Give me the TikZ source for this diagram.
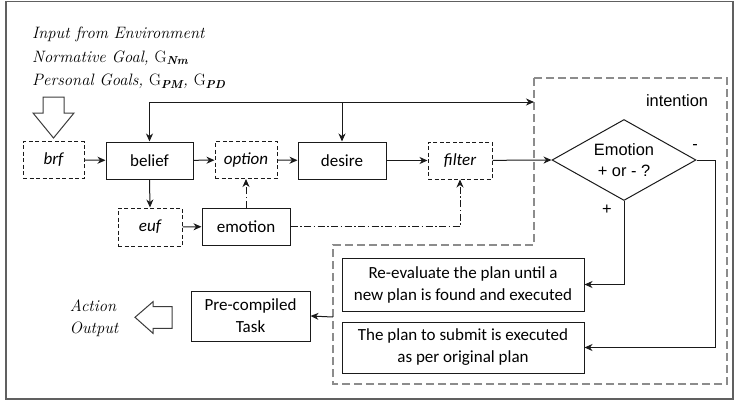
\documentclass[tikz,border=0pt]{standalone}
\usepackage{fontspec}
\newfontfamily\boxfont{Carlito}
\newfontfamily\labelfont{Liberation Sans}
\usetikzlibrary{arrows.meta,shapes.geometric}
\definecolor{ink}{HTML}{1A1A1A}
\definecolor{framegray}{HTML}{606060}
\definecolor{zonegray}{HTML}{8C8C8C}
\begin{document}
\begin{tikzpicture}[x=1pt,y=-1pt,
  every node/.style={inner sep=0pt},
  solidbox/.style={draw=ink, line width=1pt, minimum height=37pt, align=center,
    font=\boxfont\fontsize{17}{22}\selectfont},
  dashbox/.style={solidbox, dash pattern=on 4pt off 2.5pt,
    font=\boxfont\itshape\fontsize{17}{22}\selectfont},
  conn/.style={draw=ink, line width=1pt, -{Stealth[length=8pt,width=7pt,inset=2.5pt]}},
  dashdot/.style={conn, dash pattern=on 7pt off 2.5pt on 1.5pt off 2.5pt},
  plain/.style={draw=ink, line width=1pt},
  hollow/.style={draw=ink!85, line width=1pt, fill=white, line join=miter},
  serifit/.style={font=\itshape\fontsize{16.5}{19}\selectfont},
  sanslabel/.style={font=\labelfont\fontsize{16.4}{21}\selectfont, align=center},
]
\useasboundingbox (0,0) rectangle (735,402);

% outer frame
\draw[framegray, line width=1.5pt] (6,1.5) rectangle (733,399);

% intention zone
\draw[zonegray, line width=1.4pt, dash pattern=on 8pt off 4pt]
  (534,78) -- (727,78) -- (727,384) -- (333,384) -- (333,245) -- (534,245) -- cycle;
\node[sanslabel] (intention) at (677,101) {intention};

% inputs
\node[serifit, anchor=base west] (in1) at (32,38.5) {Input from Environment};
\node[serifit, anchor=base west] (in2) at (32,62) {Normative Goal, {\upshape G}\textsubscript{\textbf{Nm}}};
\node[serifit, anchor=base west] (in3) at (32,85.5) {Personal Goals, {\upshape G}\textsubscript{\textbf{PM}}, {\upshape G}\textsubscript{\textbf{PD}}};

% input arrow
\draw[hollow] (43,97) -- (64,97) -- (64,113) -- (74,113) -- (53.5,138) -- (33,113) -- (43,113) -- cycle;

% main row
\node[dashbox, minimum width=61pt] (brf) at (53.5,160) {brf};
\node[solidbox, minimum width=87pt] (belief) at (149.5,160.5) {belief};
\node[dashbox, minimum width=62pt] (option) at (246,160) {option};
\node[solidbox, minimum width=88pt] (desire) at (342,160.5) {desire};
\node[dashbox, minimum width=64pt] (filter) at (460,160.5) {filter};

% second row
\node[dashbox, minimum width=64pt, minimum height=38pt] (euf) at (150,227) {euf};
\node[solidbox, minimum width=88pt] (emotion) at (246,226.5) {emotion};

% decision
\node[draw=ink, line width=1pt, shape=diamond, aspect=1.78, minimum width=144pt,
  minimum height=81pt, sanslabel] (dia) at (624,160) {Emotion\\+ or - ?};
\node[sanslabel] (plus) at (607,210) {+};
\node[sanslabel] (minus) at (695,147) {-};

% outcomes
\node[solidbox, minimum width=242pt, minimum height=53pt] (reeval) at (463,284.5)
  {Re-evaluate the plan until a\\new plan is found and executed};
\node[solidbox, minimum width=242pt, minimum height=51pt] (plan) at (463,347.5)
  {The plan to submit is executed\\as per original plan};
\node[solidbox, minimum width=119pt, minimum height=50pt] (task) at (250.5,316)
  {Pre-compiled\\Task};

% output
\draw[hollow] (172,306.7) -- (153,306.7) -- (153,301.7) -- (135,317.3) -- (153,333.3)
  -- (153,328.3) -- (172,328.3) -- cycle;
\node[serifit, anchor=base] (act) at (93,311) {Action};
\node[serifit, anchor=base] (outp) at (94,333) {Output};

% connectors
\coordinate (tl) at (149.5,102);
\coordinate (intentin) at (534,102);
\coordinate (intentout) at (333,317);
\coordinate (rturn) at (715,160);

\draw[conn] (tl) -- (belief.north);
\draw[conn] (tl) -- (intentin);
\draw[conn] (desire.north |- tl) -- (desire.north);
\draw[conn] (brf) -- (belief);
\draw[conn] (belief) -- (option);
\draw[conn] (option) -- (desire);
\draw[conn] (desire) -- (filter);
\draw[conn] (filter) -- (dia.west);
\draw[conn] (belief.south) -- (euf.north);
\draw[conn] (euf) -- (emotion);
\draw[dashdot] (emotion.north) -- (option.south);
\draw[dashdot] (emotion.east) -| (filter.south);
\draw[conn] (dia.south) |- (reeval.east);
\draw[plain] (dia.east) -- (rturn);
\draw[conn] (rturn) |- (plan.east);
\draw[conn] (intentout) -- (task.east);
\end{tikzpicture}
\end{document}
